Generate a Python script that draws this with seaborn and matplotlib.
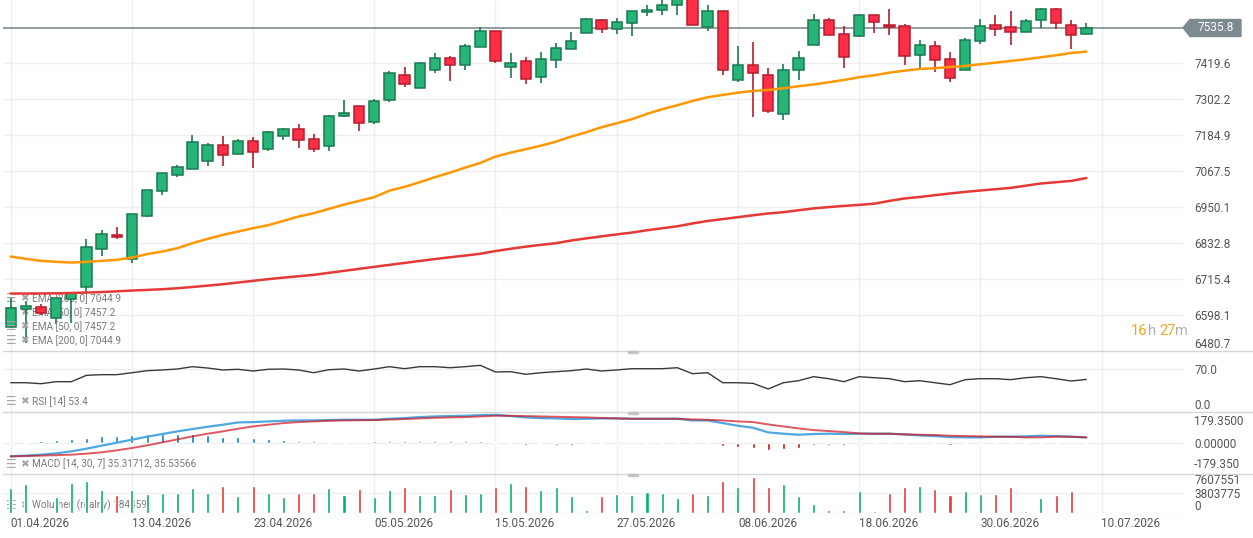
import numpy as np
import pandas as pd
import seaborn as sns
import matplotlib.pyplot as plt
from matplotlib.patches import Polygon
from matplotlib.lines import Line2D

# Style first, fonts after (set_style resets font.family)
sns.set_style('white')
plt.rcParams['font.family'] = ['Roboto', 'DejaVu Sans']

W, H = 1253, 538

# ---- data ----
dates = pd.bdate_range('2026-04-01', periods=72)

opens = [6560.6, 6617.3, 6623.8, 6587.9, 6649.9, 6689.0, 6812.9, 6859.5, 6780.3, 6922.4,
         7002.0, 7054.1, 7073.7, 7099.8, 7151.9, 7122.6, 7165.0, 7138.9, 7181.3, 7204.1,
         7171.5, 7148.7, 7248.4, 7279.1, 7226.9, 7298.6, 7380.1, 7337.7, 7398.4, 7435.5,
         7414.7, 7471.4, 7523.6, 7406.2, 7425.8, 7373.6, 7429.0, 7464.9, 7517.0, 7559.4,
         7530.1, 7549.6, 7585.5, 7592.0, 7608.3, 7634.0, 7536.6, 7588.8, 7363.8, 7412.7,
         7380.1, 7253.0, 7396.4, 7477.9, 7559.4, 7513.8, 7507.3, 7575.7, 7543.1, 7539.9,
         7445.3, 7474.7, 7432.3, 7396.4, 7491.0, 7543.1, 7536.6, 7520.3, 7559.4, 7595.3,
         7543.1, 7513.8]
highs = [6653.1, 6644.3, 6634.6, 6655.1, 6674.7, 6845.5, 6875.8, 6886.6, 6928.0, 7006.2,
         7061.6, 7087.7, 7185.5, 7159.4, 7181.3, 7171.5, 7180.0, 7198.5, 7208.3, 7221.4,
         7187.8, 7249.7, 7299.6, 7280.0, 7301.9, 7394.1, 7407.2, 7423.5, 7452.8, 7443.0,
         7482.2, 7537.6, 7524.5, 7452.8, 7439.8, 7455.1, 7485.4, 7521.3, 7565.9, 7562.7,
         7565.9, 7589.7, 7609.3, 7625.6, 7640.0, 7645.0, 7609.3, 7590.0, 7475.6, 7488.7,
         7402.9, 7416.0, 7459.3, 7580.0, 7566.9, 7540.8, 7580.0, 7576.7, 7596.3, 7547.4,
         7494.2, 7491.0, 7455.1, 7500.7, 7563.7, 7576.7, 7589.7, 7563.7, 7599.5, 7599.5,
         7560.4, 7550.6]
lows = [6557.0, 6506.4, 6598.7, 6568.4, 6573.6, 6669.4, 6792.0, 6847.4, 6767.2, 6919.2,
        6989.9, 7047.6, 7073.0, 7085.4, 7085.4, 7122.0, 7078.9, 7134.3, 7170.2, 7144.1,
        7131.1, 7134.3, 7245.2, 7199.5, 7222.3, 7294.1, 7343.0, 7337.1, 7388.6, 7362.5,
        7398.4, 7470.8, 7419.2, 7372.3, 7352.7, 7356.0, 7404.9, 7464.2, 7516.4, 7517.0,
        7513.8, 7507.3, 7572.5, 7575.7, 7575.7, 7542.5, 7523.6, 7380.1, 7357.3, 7245.2,
        7256.2, 7233.4, 7365.8, 7477.3, 7509.9, 7404.9, 7504.0, 7519.0, 7512.5, 7414.7,
        7402.9, 7389.9, 7357.3, 7395.8, 7481.2, 7507.3, 7477.9, 7519.6, 7534.3, 7530.1,
        7466.8, 7513.1]
closes = [6620.5, 6627.1, 6604.2, 6653.1, 6669.4, 6819.4, 6861.8, 6852.0, 6927.0, 7005.2,
          7060.6, 7080.2, 7161.7, 7151.9, 7119.3, 7165.0, 7129.1, 7194.3, 7204.1, 7168.2,
          7138.9, 7246.5, 7256.2, 7223.6, 7295.4, 7386.6, 7350.8, 7419.2, 7435.5, 7414.7,
          7474.7, 7523.6, 7427.7, 7419.2, 7369.0, 7432.3, 7468.1, 7491.0, 7562.7, 7530.1,
          7552.9, 7588.8, 7592.0, 7608.3, 7630.0, 7543.1, 7588.8, 7396.4, 7412.7, 7386.6,
          7262.8, 7396.4, 7435.5, 7559.4, 7510.5, 7438.8, 7575.7, 7552.9, 7536.6, 7442.1,
          7477.9, 7429.0, 7370.3, 7494.2, 7539.9, 7530.1, 7520.3, 7556.2, 7595.3, 7549.6,
          7510.5, 7535.8]

ema50 = [6788.8, 6781.3, 6774.7, 6771.5, 6769.2, 6771.5, 6774.7, 6778.0, 6785.5, 6796.6,
         6805.1, 6816.1, 6832.4, 6846.5, 6859.5, 6870.3, 6881.3, 6891.1, 6905.1, 6919.2,
         6930.2, 6944.3, 6958.3, 6970.3, 6982.4, 7003.9, 7016.0, 7031.3, 7047.6, 7062.6,
         7078.9, 7094.2, 7114.8, 7127.8, 7138.9, 7150.6, 7163.7, 7180.0, 7194.3, 7210.6,
         7223.6, 7236.7, 7254.0, 7269.3, 7282.3, 7296.3, 7308.4, 7315.9, 7323.4, 7328.9,
         7332.2, 7337.7, 7344.3, 7350.1, 7357.3, 7364.8, 7373.6, 7380.1, 7388.6, 7395.1,
         7400.7, 7402.9, 7407.2, 7410.4, 7416.0, 7421.2, 7426.7, 7432.3, 7438.8, 7445.3,
         7452.8, 7457.2]
ema200 = [6668.1, 6668.1, 6668.5, 6668.8, 6669.8, 6671.4, 6673.0, 6675.3, 6677.9, 6679.9,
          6682.2, 6685.4, 6689.6, 6693.9, 6698.5, 6704.0, 6709.5, 6715.1, 6720.0, 6724.5,
          6729.1, 6735.6, 6742.1, 6748.7, 6755.2, 6761.7, 6767.9, 6774.4, 6780.6, 6786.5,
          6792.0, 6797.9, 6806.7, 6814.2, 6821.0, 6826.9, 6832.4, 6841.2, 6848.1, 6854.6,
          6861.1, 6867.0, 6874.5, 6881.0, 6887.5, 6896.7, 6904.8, 6911.0, 6917.2, 6923.4,
          6929.3, 6933.5, 6939.7, 6945.9, 6950.1, 6954.0, 6957.3, 6961.2, 6970.3, 6978.2,
          6983.1, 6988.9, 6994.5, 6999.7, 7004.2, 7008.5, 7012.7, 7019.9, 7027.1, 7031.3,
          7035.5, 7044.9]

rsi = [48.0, 48.0, 46.4, 49.7, 49.7, 60.1, 61.2, 61.2, 64.4, 67.7,
       68.9, 70.5, 74.3, 72.1, 68.9, 70.0, 67.2, 70.0, 70.5, 68.9,
       64.4, 69.3, 70.5, 67.2, 70.5, 74.3, 71.0, 74.3, 74.3, 72.6,
       74.3, 76.5, 65.6, 66.1, 61.8, 64.4, 66.1, 67.7, 70.5, 67.2,
       68.9, 71.0, 71.0, 71.0, 72.6, 62.8, 64.4, 48.0, 48.0, 47.0,
       37.7, 48.0, 51.3, 57.9, 54.6, 49.7, 57.9, 56.2, 54.6, 49.7,
       51.3, 48.0, 44.8, 53.0, 54.6, 54.6, 53.0, 56.2, 57.9, 54.6,
       50.8, 53.4]

macd = [-84.8, -80.5, -74.2, -65.7, -53.1, -36.1, -17.1, 1.9, 20.9, 39.9,
        56.9, 73.8, 88.6, 103.3, 116.0, 130.8, 132.9, 137.2, 141.4, 143.5,
        143.5, 145.6, 147.7, 147.7, 147.7, 154.1, 158.3, 164.6, 168.8, 171.0,
        173.1, 177.3, 179.4, 171.0, 162.5, 158.3, 156.2, 152.0, 154.1, 156.2,
        156.2, 154.1, 154.1, 154.1, 154.1, 143.5, 143.5, 126.6, 109.7, 97.0,
        67.4, 59.0, 52.6, 56.9, 59.0, 56.9, 59.0, 59.0, 59.0, 54.7,
        48.4, 44.2, 37.8, 35.7, 35.7, 39.9, 39.9, 42.0, 46.3, 44.2,
        39.9, 35.3]
signal = [-84.8, -82.6, -80.5, -77.3, -74.2, -67.8, -59.4, -46.7, -31.9, -15.0,
          4.0, 23.0, 42.0, 59.0, 73.8, 90.7, 105.4, 116.0, 126.6, 132.9,
          137.2, 141.4, 143.5, 144.6, 145.6, 148.8, 152.0, 156.2, 160.4, 162.5,
          164.6, 168.8, 173.1, 173.1, 171.0, 168.8, 166.7, 164.6, 162.5, 159.3,
          156.2, 154.1, 154.1, 154.1, 154.1, 149.8, 147.7, 143.5, 137.2, 132.9,
          118.1, 105.4, 92.8, 82.2, 75.9, 69.5, 61.1, 59.0, 59.0, 54.7,
          52.6, 50.5, 46.3, 44.2, 42.0, 39.9, 39.9, 35.7, 35.7, 39.9,
          39.9, 35.5]
hist = [0, 6.3, 10.6, 16.9, 23.3, 29.6, 42.3, 42.3, 48.6, 57.0,
        57.0, 57.0, 57.0, 48.6, 38.0, 35.9, 31.7, 27.5, 21.1, 14.8,
        10.6, 8.5, 6.3, 2.0, 10.6, 14.8, 14.8, 14.8, 14.8, 14.8,
        14.8, 14.8, 8.5, 0, -10.6, -8.5, -10.6, -10.6, -6.3, -6.3,
        0, 0, 0, 0, 0, -2.5, -2.5, -21.1, -27.5, -33.8,
        -46.5, -40.1, -33.8, -14.8, -10.6, -10.6, 0, 0, 0, -2.5,
        -2.5, -8.5, -14.8, -8.5, -4.2, 0, 0, 6.3, 6.3, 6.3,
        0, -0.2]

volume = [4910000, 5640000, 150000, 3080000, 5900000, 6220000, 4460000, 3470000, 4460000, 3670000,
          3870000, 3870000, 4850000, 3870000, 5240000, 3280000, 5240000, 3870000, 3080000, 3870000,
          3870000, 4850000, 3470000, 4650000, 3080000, 4460000, 5050000, 3470000, 3470000, 4650000,
          3670000, 3870000, 5050000, 5830000, 5240000, 4460000, 5050000, 3280000, 520000, 3280000,
          3670000, 3470000, 4060000, 3870000, 2880000, 3870000, 3470000, 6220000, 5050000, 7010000,
          5050000, 5640000, 3280000, 1700000, 520000, 520000, 4260000, 330000, 3870000, 5050000,
          5240000, 4650000, 3470000, 4260000, 3670000, 3670000, 5050000, 330000, 2880000, 3470000,
          4260000, 184459]

date_labels = ['01.04.2026', '13.04.2026', '23.04.2026', '05.05.2026', '15.05.2026',
               '27.05.2026', '08.06.2026', '18.06.2026', '30.06.2026', '10.07.2026']
price_ticks = [7419.6, 7302.2, 7184.9, 7067.5, 6950.1, 6832.8, 6715.4, 6598.1, 6480.7]
last_price = 7535.8

# ---- colours ----
GREEN, GREEN_E = '#26b479', '#1a7a4f'
RED, RED_E = '#ff2e47', '#b61c2d'
VOL_G, VOL_R = '#00b26a', '#e53935'
GRID = '#efefef'
LBL = '#555555'
LEG = '#7a7a7a'

fig = plt.figure(figsize=(W / 100, H / 100), dpi=100)


def px_axes(top, bottom, left=3, right=1183):
    return fig.add_axes([left / W, 1 - bottom / H, (right - left) / W, (bottom - top) / H])


ax_p = px_axes(0, 351)
ax_r = px_axes(351, 412)
ax_m = px_axes(412, 474)
ax_v = px_axes(474, 512.7)

x = np.arange(len(dates))
step = 15.15
xlim = ((3 - 10.7) / step, (1183 - 10.7) / step)

for ax in (ax_p, ax_r, ax_m, ax_v):
    ax.set_xlim(*xlim)
    for s in ax.spines.values():
        s.set_visible(False)
    ax.set_xticks(range(0, 73, 8))
    ax.grid(axis='x', color=GRID, lw=1)
    ax.grid(axis='y', visible=False)
    ax.set_axisbelow(True)
    ax.yaxis.tick_right()
    ax.tick_params(axis='both', length=0, labelsize=8.5, labelcolor=LBL)
    ax.tick_params(axis='y', pad=8)
    ax.tick_params(axis='x', labelbottom=False)

# ---- price panel ----
o, hi, lo, c = (np.array(v) for v in (opens, highs, lows, closes))
up = c >= o
ax_p.vlines(x, lo, hi, colors=np.where(up, GREEN_E, RED_E), lw=1.2, zorder=3)
ax_p.bar(x, np.maximum(np.abs(c - o), 3.0), bottom=np.minimum(o, c), width=0.68,
         color=np.where(up, GREEN, RED), edgecolor=np.where(up, GREEN_E, RED_E),
         linewidth=1.1, zorder=4)
sns.lineplot(x=x, y=ema50, ax=ax_p, color='#ff9800', linewidth=1.8, zorder=5, legend=False)
sns.lineplot(x=x, y=ema200, ax=ax_p, color='#e53935', linewidth=1.8, zorder=5, legend=False)
ax_p.axhline(last_price, color='#7f8c8d', lw=1.2, zorder=2)
ax_p.set_ylim(6480.7, 7625.6)
ax_p.set_yticks(price_ticks)
ax_p.set_yticklabels([f'{v:.1f}' for v in price_ticks])
ax_p.get_yticklabels()[-1].set_va('bottom')
for v in price_ticks[:-1]:
    ax_p.axhline(v, color=GRID, lw=1, zorder=0)

# current price tag
tag = [(1183, 27.7), (1190, 19.5), (1241, 19.5), (1241, 36.5), (1190, 36.5)]
fig.patches.append(Polygon([(px / W, 1 - py / H) for px, py in tag], closed=True,
                           transform=fig.transFigure, color='#7d8a8f'))
fig.text(1216 / W, 1 - 28 / H, f'{last_price:.1f}', color='white', ha='center',
         va='center', fontsize=8.5)

# countdown
t = fig.text(1131 / W, 1 - 331 / H, '16', color='#f5a31a', fontsize=10.5, va='center')
for piece, col in (('h ', '#b0b0b0'), ('27', '#f5a31a'), ('m', '#b0b0b0')):
    t = ax_p.annotate(piece, xy=(1, 0), xycoords=t, va='bottom', ha='left',
                      color=col, fontsize=10.5, annotation_clip=False)


def legend_row(ax, ypx, label, z=1):
    ax.text(6 / W, 1 - ypx / H, '☰', transform=fig.transFigure, va='center',
            fontsize=8.5, color='#a5a5a5', zorder=z)
    ax.text(20 / W, 1 - ypx / H, '✖', transform=fig.transFigure, va='center',
            fontsize=7.5, color='#a5a5a5', zorder=z)
    ax.text(32 / W, 1 - ypx / H, label, transform=fig.transFigure, va='center',
            fontsize=7.2, color=LEG, zorder=z)


legend_row(ax_p, 298.3, 'EMA [200, 0] 7044.9')
legend_row(ax_p, 312.3, 'EMA [50, 0] 7457.2')
legend_row(ax_p, 326.3, 'EMA [50, 0] 7457.2', z=6)
legend_row(ax_p, 340.3, 'EMA [200, 0] 7044.9', z=6)

# ---- RSI ----
sns.lineplot(x=x, y=rsi, ax=ax_r, color='#3a3a3a', linewidth=1.0, legend=False)
ax_r.set_ylim(0, 100)
ax_r.set_yticks([70, 0])
ax_r.set_yticklabels(['70.0', '0.0'])
ax_r.get_yticklabels()[-1].set_va('bottom')
ax_r.axhline(70, color=GRID, lw=1, zorder=0)
legend_row(ax_r, 401.5, 'RSI [14] 53.4')

# ---- MACD ----
h_arr = np.array(hist)
ax_m.bar(x, h_arr, width=0.2, color=np.where(h_arr >= 0, '#0a7ccc', '#cc1111'), zorder=3)
sns.lineplot(x=x, y=macd, ax=ax_m, color='#4fa8e2', linewidth=1.6, zorder=4, legend=False)
sns.lineplot(x=x, y=signal, ax=ax_m, color='#d2121c', linewidth=1.4, alpha=0.7,
             zorder=5, legend=False)
ax_m.set_ylim(-197, 197)
ax_m.set_yticks([179.35, 0, -179.35])
ax_m.set_yticklabels(['179.3500', '0.00000', '-179.350'])
ax_m.get_yticklabels()[0].set_va('top')
ax_m.get_yticklabels()[-1].set_va('bottom')
ax_m.axhline(0, color=GRID, lw=1, zorder=0)
legend_row(ax_m, 464, 'MACD [14, 30, 7] 35.31712, 35.53566')

# ---- Volume ----
ax_v.bar(x, volume, width=0.2, color=np.where(up, VOL_G, VOL_R), zorder=3)
ax_v.set_ylim(0, 7607551)
ax_v.set_yticks([7607551, 3803775, 0])
ax_v.set_yticklabels(['7607551', '3803775', '0'])
ax_v.get_yticklabels()[0].set_va('top')
ax_v.get_yticklabels()[-1].set_va('bottom')
ax_v.axhline(3803775, color=GRID, lw=1, zorder=0)
ax_v.axhline(0, color='#e6e6e6', lw=1, zorder=0)
legend_row(ax_v, 505.5, 'Wolumen (realny) 184459')

ax_v.tick_params(axis='x', labelbottom=True, pad=3)
ax_v.set_xticklabels(date_labels, ha='left')

# panel separators with small handles
for ypx in (351, 412, 474):
    fig.add_artist(Line2D([3 / W, 1], [1 - ypx / H] * 2, color='#d6d6d6', lw=1))
    fig.add_artist(Line2D([629 / W, 637 / W], [1 - (ypx + 0.5) / H] * 2,
                          color='#c2c2c2', lw=2.5, solid_capstyle='round'))

fig.savefig('out.png', dpi=100, facecolor='white')
